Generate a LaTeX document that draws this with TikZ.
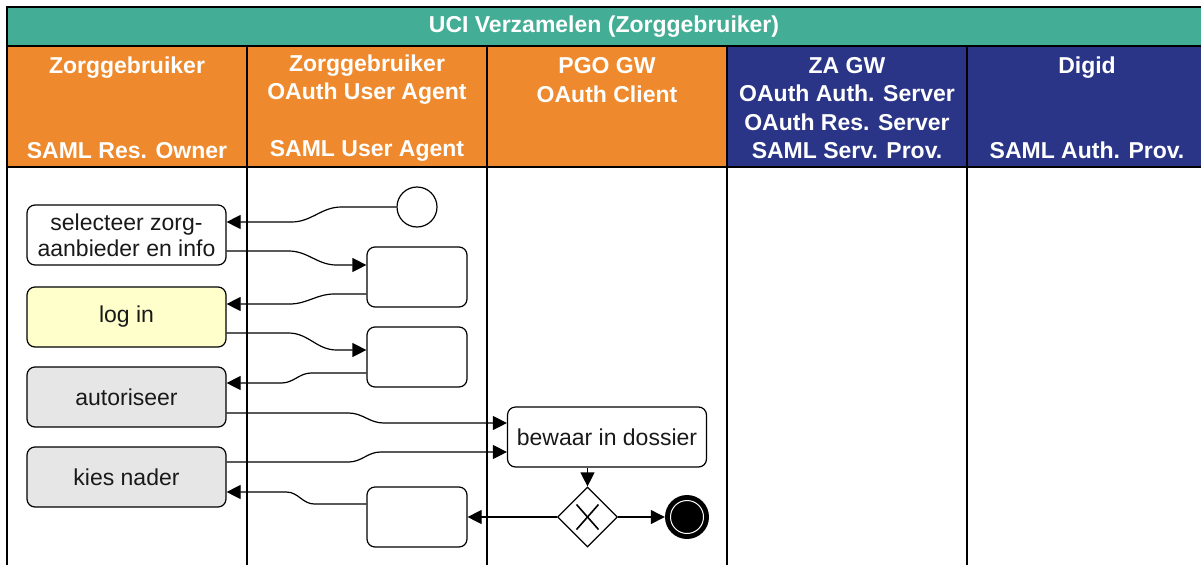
\documentclass[tikz,border=0pt]{standalone}
\usepackage{fontspec}
\setmainfont{Liberation Sans}
\usetikzlibrary{arrows.meta,shapes.geometric,calc}
\definecolor{tealhdr}{RGB}{68,173,150}
\definecolor{orhdr}{RGB}{238,137,45}
\definecolor{navyhdr}{RGB}{42,53,135}
\definecolor{yelfill}{RGB}{255,255,204}
\definecolor{gryfill}{RGB}{230,230,230}
\begin{document}
\begin{tikzpicture}[x=1pt,y=-1pt,
  hdr/.style={text=white,font=\bfseries\fontsize{23}{28.3}\selectfont,align=center,inner sep=0pt},
  act/.style={draw,rounded corners=8pt,minimum width=199pt,minimum height=60pt,line width=1.2pt,
    font=\fontsize{23}{26}\selectfont,align=center,inner sep=0pt,text=black!90},
  task/.style={draw,rounded corners=8pt,minimum width=100pt,minimum height=60pt,line width=1.2pt,inner sep=0pt},
  arr/.style={line width=1.2pt,-{Triangle[length=14pt,width=14pt]}},
  lane/.style={line width=1.5pt}
]
\useasboundingbox (0,0) rectangle (1201,565);
% header fills
\fill[tealhdr] (7,7) rectangle (1201,46);
\fill[orhdr] (7,46) rectangle (727,167);
\fill[navyhdr] (727,46) rectangle (1201,167);
% frame and lanes
\draw[line width=2pt] (7,565) -- (7,7) -- (1201,7);
\draw[line width=2pt] (7,46) -- (1201,46);
\draw[lane] (7,167) -- (1201,167);
\foreach \x in {247,487,727,967} \draw[lane] (\x,46) -- (\x,565);
% header texts
\node[hdr] (title) at (604,27) {UCI Verzamelen (Zorggebruiker)};
\node[hdr] (h1) at (127,108) {Zorggebruiker\\\strut\\\strut\\SAML Res. Owner};
\node[hdr] (h2) at (367,108) {Zorggebruiker\\OAuth User Agent\\\strut\\SAML User Agent};
\node[hdr] (h3) at (607,80) {PGO GW\\OAuth Client};
\node[hdr] (h4) at (847,108) {ZA GW\\OAuth Auth. Server\\OAuth Res. Server\\SAML Serv. Prov.};
\node[hdr] (h5) at (1087,108) {Digid\\\strut\\\strut\\SAML Auth. Prov.};
% activities
\node[act] (sel) at (126.5,235) {selecteer zorg-\\aanbieder en info};
\node[act,fill=yelfill] (login) at (126.5,317) {log in};
\node[act,fill=gryfill] (autor) at (126.5,397) {autoriseer};
\node[act,fill=gryfill] (kies) at (126.5,477) {kies nader};
\node[act] (bew) at (607,437) {bewaar in dossier};
\node[task] (ta) at (417,277) {};
\node[task] (tb) at (417,357) {};
\node[task] (tc) at (417,517) {};
\node[circle,draw,line width=1.2pt,minimum size=40pt,inner sep=0pt] (start) at (417,207) {};
\node[diamond,draw,line width=1.2pt,minimum width=60pt,minimum height=60pt,inner sep=0pt] (gw) at (587.5,517) {};
\draw[line width=1.6pt] ($(gw.center)+(-11,-12.5)$) -- ($(gw.center)+(11,12.5)$);
\draw[line width=1.6pt] ($(gw.center)+(-11,12.5)$) -- ($(gw.center)+(11,-12.5)$);
\node[circle,fill=black,minimum size=44pt,inner sep=0pt] (end) at (687,517) {};
\draw[white,line width=1pt] (end.center) circle[radius=16.5pt];
% connectors
\draw[arr] (start.west) -- ++(-55,0) to[out=180,in=0] ++(-50,15) -- ([yshift=13pt]sel.east);
\draw[arr] ([yshift=-16pt]sel.east) -- ++(62,0) to[out=0,in=180] ++(48,14) -- ([yshift=12pt]ta.west);
\draw[arr] ([yshift=-17pt]ta.west) -- ++(-32,0) to[out=180,in=0] ++(-45,10) -- ([yshift=13pt]login.east);
\draw[arr] ([yshift=-16pt]login.east) -- ++(62,0) to[out=0,in=180] ++(48,17) -- ([yshift=7pt]tb.west);
\draw[arr] ([yshift=-16pt]tb.west) -- ++(-55,0) to[out=180,in=0] ++(-30,10) -- ([yshift=14pt]autor.east);
\draw[arr] ([yshift=-16pt]autor.east) -- ++(122,0) to[out=0,in=180] ++(35,10) -- ([yshift=14pt]bew.west);
\draw[arr] ([yshift=15pt]kies.east) -- ++(122,0) to[out=0,in=180] ++(32,-10) -- ([yshift=-15pt]bew.west);
\draw[arr] ([yshift=13pt]tc.west) -- ++(-52,0) to[out=180,in=0] ++(-28,-12) -- ([yshift=-15pt]kies.east);
\draw[arr] (bew.south -| gw.north) -- (gw.north);
\draw[arr] (gw.west) -- (tc.east);
\draw[arr] (gw.east) -- (end.west);
\end{tikzpicture}
\end{document}
